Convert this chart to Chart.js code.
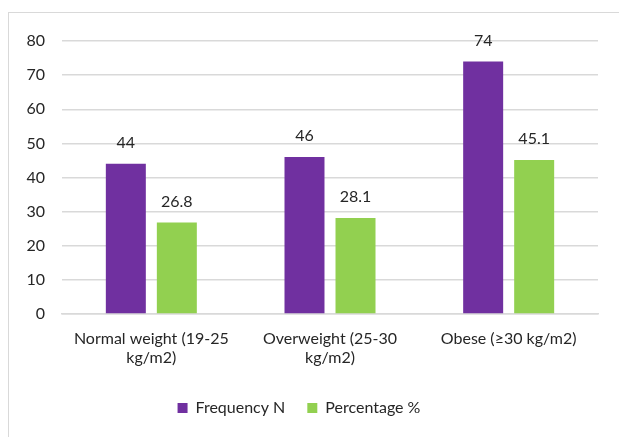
<!DOCTYPE html>
<html>
<head>
<meta charset="utf-8">
<script src="https://cdn.jsdelivr.net/npm/chart.js@4"></script>
<style>
  html, body { margin: 0; padding: 0; background: #fff; }
  #wrap { position: relative; width: 619px; height: 437px; overflow: hidden; }
  #frame { position: absolute; left: 8px; top: 12px; width: 640px; height: 460px; border: 1px solid #d9d9d9; box-sizing: border-box; }
  canvas { position: absolute; left: 0; top: 0; }
</style>
</head>
<body>
<div id="wrap">
  <div id="frame"></div>
  <canvas id="c" width="619" height="437"></canvas>
</div>
<script>
// BMI groups and their counts / shares
const categories = [["Normal weight (19-25", "kg/m2)"], ["Overweight (25-30", "kg/m2)"], ["Obese (\u226530 kg/m2)"]];
const frequencyN = [44, 46, 74];
const percentage = [26.8, 28.1, 45.1];
const yTicks = [0, 10, 20, 30, 40, 50, 60, 70, 80];

const FONT = "Lato, 'Open Sans', sans-serif";
const SIZE = 16;

// Writes each bar's value just above it
const valueLabels = {
  id: 'valueLabels',
  afterDatasetsDraw(chart) {
    const ctx = chart.ctx;
    ctx.save();
    ctx.font = SIZE + "px " + FONT;
    ctx.fillStyle = '#262626';
    ctx.textAlign = 'center';
    ctx.textBaseline = 'middle';
    chart.data.datasets.forEach((ds, i) => {
      chart.getDatasetMeta(i).data.forEach((bar, j) => {
        ctx.fillText(String(ds.data[j]), bar.x, bar.y - 21);
      });
    });
    ctx.restore();
  }
};

new Chart(document.getElementById('c'), {
  type: 'bar',
  data: {
    labels: categories,
    datasets: [
      { label: 'Frequency N', data: frequencyN, backgroundColor: '#7030a0' },
      { label: 'Percentage %', data: percentage, backgroundColor: '#92d050' }
    ]
  },
  options: {
    responsive: false,
    animation: false,
    devicePixelRatio: 1,
    layout: { padding: { left: 0, right: 21, top: 41, bottom: 11 } },
    datasets: { bar: { categoryPercentage: 0.571, barPercentage: 0.784 } },
    plugins: {
      legend: {
        position: 'bottom',
        labels: {
          font: { family: FONT, size: SIZE },
          color: '#262626',
          boxWidth: 10,
          boxHeight: 10,
          padding: 22
        }
      },
      tooltip: { enabled: false }
    },
    scales: {
      x: {
        grid: { display: false, drawTicks: false },
        border: { color: '#d9d9d9', width: 1.5 },
        ticks: {
          font: { family: FONT, size: SIZE },
          color: '#262626',
          padding: 15,
          maxRotation: 0,
          autoSkip: false
        },
        afterFit(scale) { scale.height = 64; }
      },
      y: {
        min: 0,
        max: 80,
        afterBuildTicks(scale) { scale.ticks = yTicks.map(v => ({ value: v })); },
        grid: { color: '#d9d9d9', lineWidth: 1.5, drawTicks: false },
        border: { display: false },
        ticks: {
          font: { family: FONT, size: SIZE },
          color: '#262626',
          padding: 17
        },
        afterFit(scale) { scale.width = 62; }
      }
    }
  },
  plugins: [valueLabels]
});
</script>
</body>
</html>
